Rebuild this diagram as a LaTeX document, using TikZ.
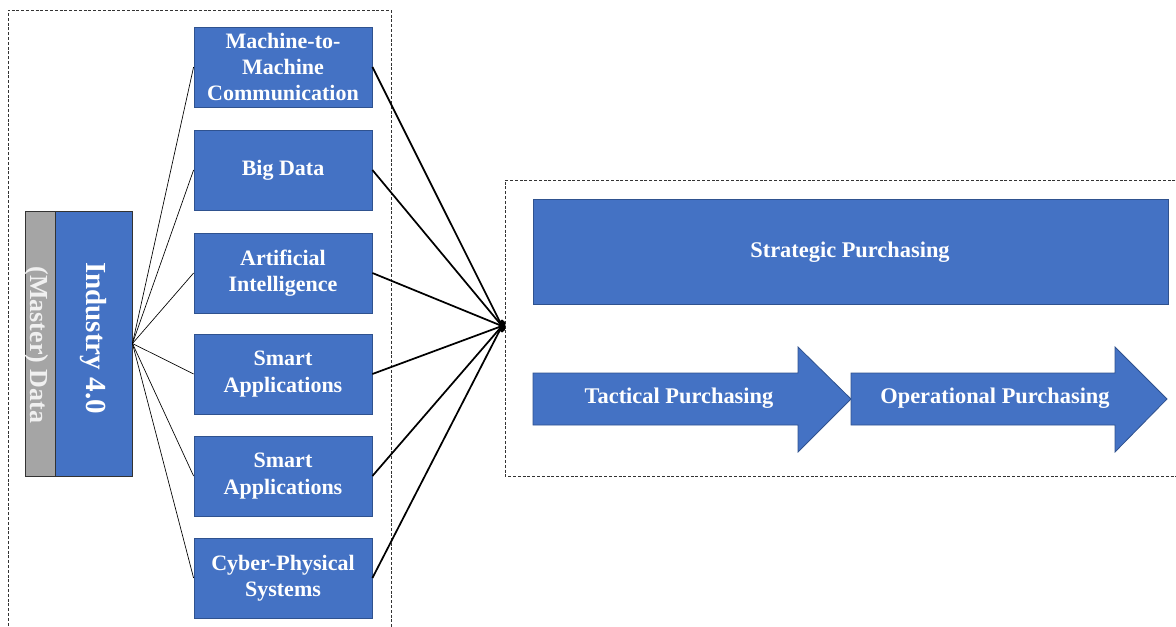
\documentclass[tikz,border=0pt]{standalone}
\usepackage{fontspec}
\setmainfont{Liberation Serif}
\usetikzlibrary{shapes.geometric}
\newdimen\px
\px=0.75pt
\definecolor{boxblue}{HTML}{4472C4}
\definecolor{edgeblue}{HTML}{2F528F}
\definecolor{datagray}{HTML}{A5A5A5}
\tikzset{
  frame/.style={draw=black!80, line width=0.7pt, dash pattern=on 2.2pt off 1.4pt},
  techbox/.style={draw=edgeblue, line width=0.6pt, fill=boxblue, text=white,
    minimum width=178\px, minimum height=80\px, inner sep=0pt, align=center,
    font=\bfseries\fontsize{16.5}{19.8}\selectfont},
  thinlink/.style={draw=black, line width=0.5pt},
  thicklink/.style={draw=black, line width=1.3pt},
  arrowshape/.style={draw=edgeblue, line width=0.6pt, fill=boxblue},
  label/.style={text=white, font=\bfseries\fontsize{16.8}{19}\selectfont, inner sep=0pt}
}
\begin{document}
\begin{tikzpicture}[x=1\px, y=-1\px]
\useasboundingbox (0,0) rectangle (1176,627);

% dashed frames
\draw[frame] (8,640) -- (8,10) -- (391,10) -- (391,640);
\draw[frame] (1185,180) -- (505,180) -- (505,476) -- (1185,476);

% Industry 4.0 block with master data strip
\node[draw=black!80, line width=0.7pt, fill=datagray, minimum width=30\px, minimum height=265\px,
      inner sep=0pt] (data) at (40,343.5) {};
\node[draw=black!80, line width=0.7pt, fill=boxblue, minimum width=77\px, minimum height=265\px,
      inner sep=0pt] (ind) at (93.5,343.5) {};
\node[rotate=-90, text=white, font=\bfseries\fontsize{21.8}{24}\selectfont, inner sep=0pt]
      at (93,338) {Industry 4.0};
\node[rotate=-90, text=gray!12, font=\bfseries\fontsize{19.5}{22}\selectfont, inner sep=0pt]
      at (37,345) {(Master) Data};

% technology boxes
\node[techbox] (t1) at (283,67)  {Machine-to-\\Machine\\Communication};
\node[techbox] (t2) at (283,170) {Big Data};
\node[techbox] (t3) at (283,273) {Artificial\\Intelligence};
\node[techbox] (t4) at (283,374) {Smart\\Applications};
\node[techbox] (t5) at (283,476) {Smart\\Applications};
\node[techbox] (t6) at (283,578) {Cyber-Physical\\Systems};

% convergence point
\node[ellipse, fill=black, inner sep=0pt, minimum width=7\px, minimum height=13\px] (hub) at (502,326) {};

% links
\foreach \t in {t1,t2,t3,t4,t5,t6}{
  \draw[thinlink] (ind.east) -- (\t.west);
  \draw[thicklink] (\t.east) -- (hub.center);
}

% purchasing levels
\node[draw=edgeblue, line width=0.6pt, fill=boxblue, minimum width=635\px, minimum height=105\px,
      inner sep=0pt] (strat) at (850.5,251.5) {};
\node[label] at (850,252) {Strategic Purchasing};

\draw[arrowshape] (533,373) -- (798,373) -- (798,347) -- (851,399) -- (798,452) -- (798,425) -- (533,425) -- cycle;
\draw[arrowshape] (851,373) -- (1115,373) -- (1115,347) -- (1167,399) -- (1115,452) -- (1115,425) -- (851,425) -- cycle;
\node[label] (tact) at (679,398) {Tactical Purchasing};
\node[label] (oper) at (995,398) {Operational Purchasing};
\end{tikzpicture}
\end{document}
